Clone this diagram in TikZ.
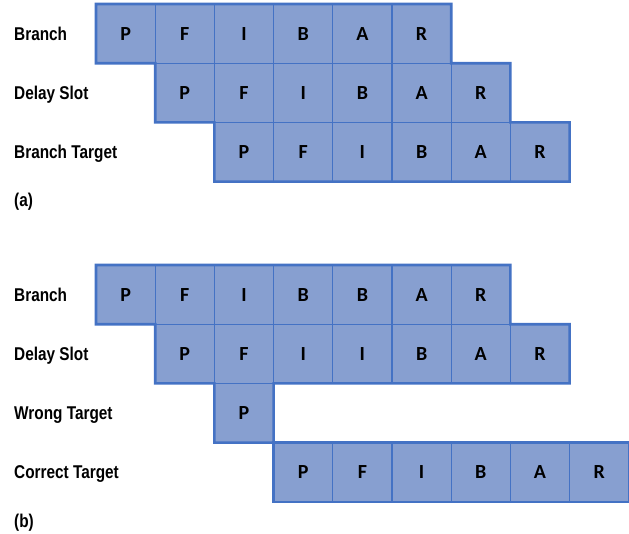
\documentclass[tikz,border=0pt]{standalone}
\usepackage{fontspec}
\setmainfont{Liberation Sans}
\newfontfamily\labelfont[FakeStretch=0.83]{Liberation Sans}
\newfontfamily\cellfont{Carlito}
\definecolor{cellfill}{RGB}{135,159,208}
\definecolor{celledge}{RGB}{68,114,196}
\tikzset{
  cell/.style={draw=celledge, line width=1.1pt, fill=cellfill, minimum width=59.2pt, minimum height=59.2pt,
    inner sep=0pt, outer sep=0pt, font=\cellfont\bfseries\fontsize{20}{20}\selectfont},
  rowlabel/.style={anchor=base west, inner sep=0pt, font=\labelfont\bfseries\fontsize{18.5}{18.5}\selectfont},
  outline/.style={draw=celledge, line width=2.6pt, line join=miter}
}
\begin{document}
\begin{tikzpicture}[x=1pt,y=-1pt]
\useasboundingbox (0,0) rectangle (629,533);
% ---------- (a) ----------
\node[rowlabel] (laB) at (14,40.2) {Branch};
\node[rowlabel] (laD) at (14,99.4) {Delay Slot};
\node[rowlabel] (laT) at (14,158.6) {Branch Target};
\foreach [count=\i] \L in {P,F,I,B,A,R}
  \node[cell] (aB\i) at ({125.6+59.2*(\i-1)}, 33.6) {\L};
\foreach [count=\i] \L in {P,F,I,B,A,R}
  \node[cell] (aD\i) at ({184.8+59.2*(\i-1)}, 92.8) {\L};
\foreach [count=\i] \L in {P,F,I,B,A,R}
  \node[cell] (aT\i) at ({244.0+59.2*(\i-1)}, 152.0) {\L};
\draw[outline] (aB1.north west) -- (aB6.north east) -- (aB6.south east) -- (aD6.north east)
  -- (aD6.south east) -- (aT6.north east) -- (aT6.south east) -- (aT1.south west)
  -- (aT1.north west) -- (aD1.south west) -- (aD1.north west) -- (aB1.south west) -- cycle;
\node[rowlabel] (capa) at (14,206.5) {(a)};
% ---------- (b) ----------
\node[rowlabel] (lbB) at (14,301.2) {Branch};
\node[rowlabel] (lbD) at (14,360.4) {Delay Slot};
\node[rowlabel] (lbW) at (14,419.6) {Wrong Target};
\node[rowlabel] (lbC) at (14,478.8) {Correct Target};
\foreach [count=\i] \L in {P,F,I,B,B,A,R}
  \node[cell] (bB\i) at ({125.6+59.2*(\i-1)}, 294.6) {\L};
\foreach [count=\i] \L in {P,F,I,I,B,A,R}
  \node[cell] (bD\i) at ({184.8+59.2*(\i-1)}, 353.8) {\L};
\node[cell] (bW1) at (244.0, 413.0) {P};
\foreach [count=\i] \L in {P,F,I,B,A,R}
  \node[cell] (bC\i) at ({303.2+59.2*(\i-1)}, 472.2) {\L};
\draw[outline] (bB1.north west) -- (bB7.north east) -- (bB7.south east) -- (bD7.north east)
  -- (bD7.south east) -- (bW1.north east) -- (bW1.south east) -- (bW1.south west)
  -- (bW1.north west) -- (bD1.south west) -- (bD1.north west) -- (bB1.south west) -- cycle;
\draw[outline] (bC1.north west) rectangle (bC6.south east);
\node[rowlabel] (capb) at (14,527.5) {(b)};
\end{tikzpicture}
\end{document}
